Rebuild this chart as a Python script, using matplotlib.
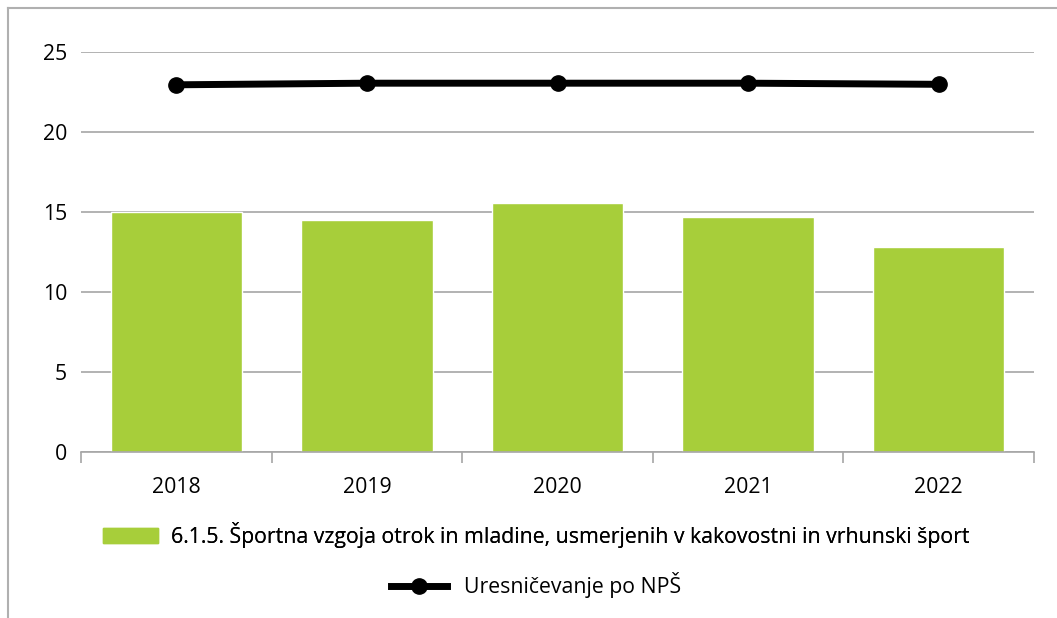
import matplotlib.pyplot as plt
from matplotlib.lines import Line2D
from matplotlib.patches import Patch
import numpy as np

plt.rcParams['font.family'] = ['Open Sans', 'DejaVu Sans']

leta = ['2018', '2019', '2020', '2021', '2022']
sredstva = [15.0, 14.5, 15.55, 14.68, 12.8]      # stolpci
nps = [22.95, 23.05, 23.05, 23.05, 22.98]        # crta
ime_stolpci = '6.1.5. Športna vzgoja otrok in mladine, usmerjenih v kakovostni in vrhunski šport'
ime_crta = 'Uresničevanje po NPŠ'

zelena = '#A7CE3A'
siva = '#A6A6A6'
fs = 15.3

fig = plt.figure(figsize=(10.57, 6.18), dpi=100)
ax = fig.add_axes([81/1057, 1 - 452/618, (1034-81)/1057, 400/618])

x = np.arange(len(leta))
ax.bar(x, sredstva, width=0.69, color=zelena, edgecolor='white', linewidth=1, zorder=2)
ax.plot(x, nps, color='black', linewidth=5, marker='o', markersize=11, zorder=3)

ax.set_xlim(-0.5, len(leta) - 0.5)
ax.set_ylim(0, 25)
ax.set_yticks(np.arange(0, 26, 5))
ax.yaxis.grid(True, color=siva, linewidth=1.2, zorder=0)
ax.set_axisbelow(True)
ax.tick_params(axis='y', length=0, pad=10, labelsize=fs)

ax.set_xticks(x)
ax.set_xticklabels(leta, fontsize=fs)
ax.set_xticks(np.arange(-0.5, len(leta)), minor=True)
ax.tick_params(axis='x', which='major', length=0, pad=18)
ax.tick_params(axis='x', which='minor', length=8, color=siva, width=1.2)

for s in ['top', 'right', 'left']:
    ax.spines[s].set_visible(False)
ax.spines['bottom'].set_color(siva)
ax.spines['bottom'].set_linewidth(1.2)

# okvir
fig.add_artist(Line2D([8/1057, 8/1057], [0, 1 - 8/618], color='#B0B0B0', linewidth=1.5))
fig.add_artist(Line2D([8/1057, 1], [1 - 8/618, 1 - 8/618], color='#B0B0B0', linewidth=1.5))

leg1 = fig.legend(handles=[Patch(color=zelena, label=ime_stolpci)],
                  loc='center', bbox_to_anchor=(536/1057, 1 - 535/618),
                  frameon=False, fontsize=fs, handlelength=2.6, handleheight=0.75,
                  handletextpad=0.6)
leg2 = fig.legend(handles=[Line2D([], [], color='black', linewidth=5, marker='o',
                                  markersize=11, label=ime_crta)],
                  loc='center', bbox_to_anchor=(536/1057, 1 - 585/618),
                  frameon=False, fontsize=fs, handlelength=2.6, handletextpad=0.8)
fig.add_artist(leg1)

fig.savefig('out.png', dpi=100)
